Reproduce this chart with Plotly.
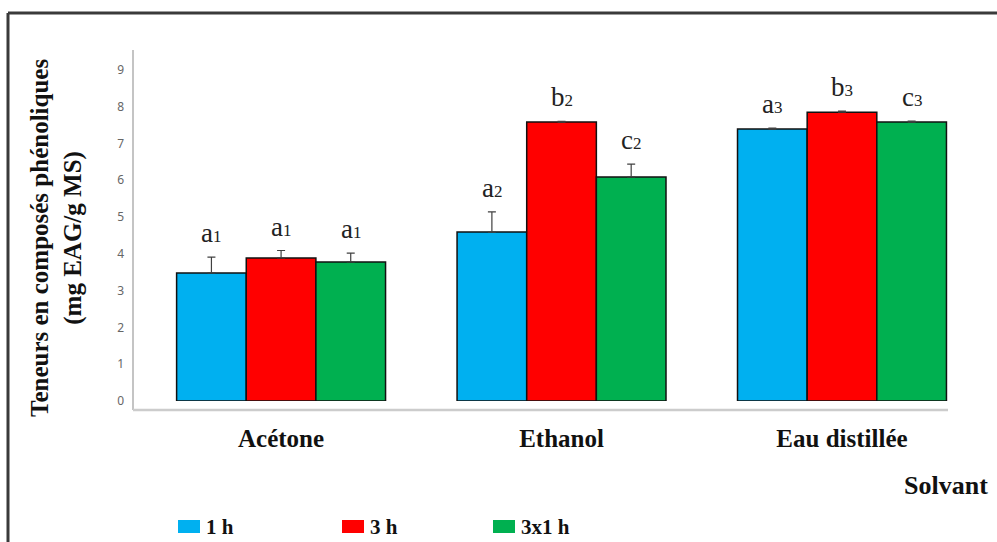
import plotly.graph_objects as go

# ---------------- data ----------------
solvants = ["Acétone", "Ethanol", "Eau distillée"]
series_names = ["1 h", "3 h", "3x1 h"]
val_1h = [3.48, 4.59, 7.39]
val_3h = [3.89, 7.58, 7.85]
val_3x1h = [3.78, 6.09, 7.58]
err_1h = [0.43, 0.55, 0.03]
err_3h = [0.20, 0.02, 0.03]
err_3x1h = [0.24, 0.35, 0.03]
letters_1h = ["a", "a", "a"]
letters_3h = ["a", "b", "b"]
letters_3x1h = ["a", "c", "c"]
groups_idx = ["1", "2", "3"]
y_ticks = [0, 1, 2, 3, 4, 5, 6, 7, 8, 9]

colors = ["#00B0F0", "#FF0000", "#00B050"]

W, H = 997, 542
ML, MR, MT, MB = 133, 49, 50, 141
PW, PH = W - ML - MR, H - MT - MB


def px2x(px):
    return (px - ML) / PW


def px2y(py):
    return (H - MB - py) / PH


values = [val_1h, val_3h, val_3x1h]
errors = [err_1h, err_3h, err_3x1h]
letters = [letters_1h, letters_3h, letters_3x1h]

fig = go.Figure()
for name, v, e, c in zip(series_names, values, errors, colors):
    fig.add_trace(go.Bar(
        x=solvants, y=v, name=name,
        marker=dict(color=c, line=dict(color="#111111", width=1.5)),
        error_y=dict(type="data", array=e, symmetric=False, arrayminus=[0] * len(e),
                     color="#404040", thickness=1.2, width=4),
        showlegend=False,
    ))

serif = "Liberation Serif, Times New Roman, serif"

# significance letters
bar_w = 0.745 / 3
annotations = []
for si, (v, e, lt) in enumerate(zip(values, errors, letters)):
    for ci in range(len(solvants)):
        xpos = ci - 0.745 / 2 + bar_w * (si + 0.5)
        annotations.append(dict(
            x=xpos, y=v[ci] + e[ci], xref="x", yref="y",
            text=f"{lt[ci]}<span style='font-size:17px'>{groups_idx[ci]}</span>",
            showarrow=False, yanchor="bottom", yshift=7,
            font=dict(family=serif, size=27, color="#222222"),
        ))

# y title
annotations.append(dict(
    x=px2x(56), y=px2y(238), xref="paper", yref="paper",
    text="<b>Teneurs en composés phénoliques<br>(mg EAG/g MS)</b>",
    textangle=-90, showarrow=False, xanchor="center", yanchor="middle",
    font=dict(family=serif, size=25, color="#111111"),
))
# x title
annotations.append(dict(
    x=px2x(902), y=px2y(486), xref="paper", yref="paper",
    text="<b>Solvant</b>", showarrow=False, xanchor="left", yanchor="middle",
    font=dict(family=serif, size=26, color="#111111"),
))

shapes = []
# manual legend
leg_sw = [178, 342, 493]
for name, c, sx in zip(series_names, colors, leg_sw):
    shapes.append(dict(type="rect", xref="paper", yref="paper",
                       x0=px2x(sx), x1=px2x(sx + 22), y0=px2y(520), y1=px2y(533),
                       fillcolor=c, line=dict(width=0)))
    annotations.append(dict(
        x=px2x(sx + 26), y=px2y(527), xref="paper", yref="paper",
        text=f"<b>{name}</b>", showarrow=False, xanchor="left", yanchor="middle",
        font=dict(family=serif, size=21, color="#111111"),
    ))

# axis lines
shapes.append(dict(type="line", xref="paper", yref="paper",
                   x0=0, x1=0, y0=px2y(410), y1=1, line=dict(color="#B0B0B0", width=1.5)))
shapes.append(dict(type="line", xref="paper", yref="paper",
                   x0=0, x1=1, y0=px2y(410), y1=px2y(410), line=dict(color="#CCCCCC", width=2.5)))
# outer frame (left & top)
shapes.append(dict(type="line", xref="paper", yref="paper",
                   x0=px2x(8), x1=px2x(8), y0=px2y(H + 5), y1=px2y(13),
                   line=dict(color="#3A3A3A", width=3)))
shapes.append(dict(type="line", xref="paper", yref="paper",
                   x0=px2x(8), x1=px2x(W + 5), y0=px2y(13), y1=px2y(13),
                   line=dict(color="#3A3A3A", width=3)))

fig.update_layout(
    width=W, height=H,
    margin=dict(l=ML, r=MR, t=MT, b=MB),
    paper_bgcolor="white", plot_bgcolor="white",
    barmode="group", bargap=0.255, bargroupgap=0,
    showlegend=False,
    annotations=annotations, shapes=shapes,
    xaxis=dict(range=[-0.528, 2.378], showline=False, showgrid=False, zeroline=False,
               tickfont=dict(family=serif, size=25, color="#111111"),
               ticks="", ticklabelstandoff=20,
               tickvals=solvants, ticktext=[f"<b>{s}</b>" for s in solvants]),
    yaxis=dict(range=[0, 9.54], tickvals=y_ticks, showgrid=False, zeroline=False,
               showline=False, ticks="", ticklabelstandoff=8,
               tickfont=dict(family="Noto Sans, sans-serif", size=12, color="#666666")),
)

fig.write_html("out.html", config={"displayModeBar": False})

# remove the default page margin so the figure sits at the window's top-left corner
with open("out.html", "r", encoding="utf-8") as f:
    html = f.read()
html = html.replace("<head>", "<head><style>html,body{margin:0;padding:0;overflow:hidden;}</style>", 1)
with open("out.html", "w", encoding="utf-8") as f:
    f.write(html)
